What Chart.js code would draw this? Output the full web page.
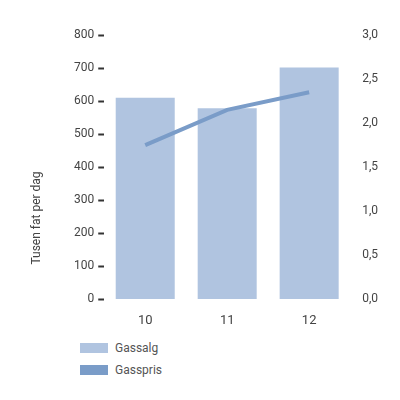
<!DOCTYPE html>
<html><head><meta charset="utf-8">
<script src="https://cdn.jsdelivr.net/npm/chart.js@4"></script>
<style>
body{margin:0;background:#fff;font-family:Roboto,sans-serif;}
#wrap{position:absolute;left:0;top:0;width:400px;height:335px;}
.leg{position:absolute;left:80px;font-size:12px;color:#555;display:flex;align-items:center;}
.leg span{display:inline-block;width:28px;height:10px;margin-right:7px;}
</style></head><body>
<div id="wrap"><canvas id="c"></canvas></div>
<div class="leg" style="top:341px"><span style="background:#b0c4e0"></span>Gassalg</div>
<div class="leg" style="top:363px"><span style="background:#7a9cc8"></span>Gasspris</div>
<script>
const categories=["10","11","12"];
const gassalg=[610,578,702];
const gasspris=[1.75,2.15,2.35];
const leftTicks=[0,100,200,300,400,500,600,700,800];
const titlePlugin={id:'t',afterDraw(ch){const c=ch.ctx;c.save();c.translate(37,218);c.rotate(-Math.PI/2);
 c.fillStyle='#444';c.font='12px Roboto';c.textAlign='center';c.textBaseline='middle';c.fillText('Tusen fat per dag',0,0);c.restore();}};
new Chart(document.getElementById('c'),{
 plugins:[titlePlugin],
 data:{labels:categories,datasets:[
  {type:'line',data:gasspris,yAxisID:'y2',borderColor:'#7a9cc8',borderWidth:4,pointRadius:0,tension:0,order:0},
  {type:'bar',data:gassalg,yAxisID:'y',backgroundColor:'#b0c4e0',categoryPercentage:0.72,barPercentage:1,order:1}
 ]},
 options:{responsive:true,maintainAspectRatio:false,animation:false,
  layout:{padding:{left:70,right:18,top:35,bottom:0}},
  plugins:{legend:{display:false},tooltip:{enabled:false}},
  scales:{
   x:{grid:{display:false},border:{display:false},ticks:{color:'#444',font:{family:'Roboto',size:13},padding:6}},
   y:{position:'left',min:0,max:800,afterBuildTicks:a=>{a.ticks=leftTicks.map(v=>({value:v}))},
      grid:{drawOnChartArea:false,tickLength:6,tickWidth:2,tickColor:'#333'},border:{display:false},
      ticks:{color:'#444',font:{family:'Roboto',size:12},padding:4}},
   y2:{position:'right',min:0,max:3,grid:{display:false},border:{display:false},
      ticks:{stepSize:0.5,color:'#444',font:{family:'Roboto',size:12},padding:4,
      callback:v=>v.toFixed(1).replace('.',',')}}
  }}
});
</script></body></html>
